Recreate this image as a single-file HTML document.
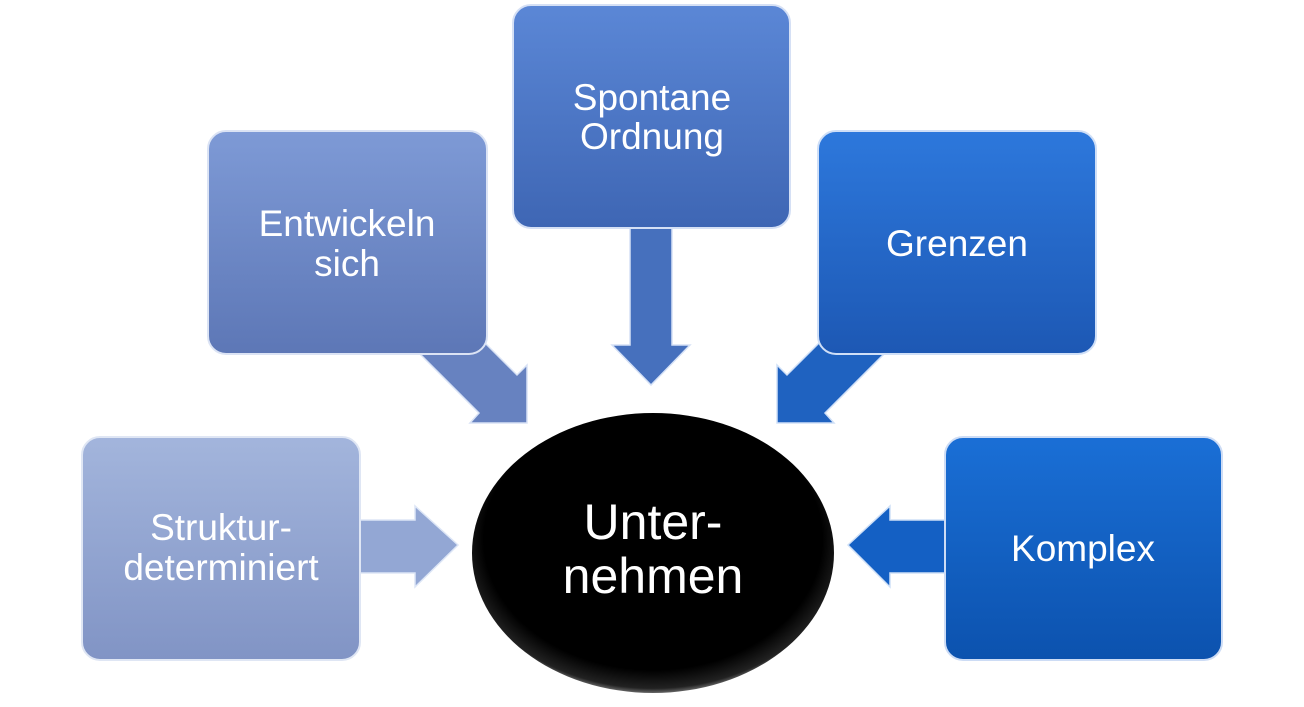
<!DOCTYPE html>
<html><head><meta charset="utf-8"><style>
body{margin:0;width:1304px;height:707px;background:#fff;overflow:hidden;font-family:"Liberation Sans",sans-serif}
svg{position:absolute;left:0;top:0}
</style></head><body>
<svg width="1304" height="707" viewBox="0 0 1304 707">
<defs>
<linearGradient id="g1" x1="0" y1="0" x2="0" y2="1"><stop offset="0" stop-color="#a3b5dc"/><stop offset="1" stop-color="#8194c5"/></linearGradient>
<linearGradient id="g2" x1="0" y1="0" x2="0" y2="1"><stop offset="0" stop-color="#7e9ad6"/><stop offset="1" stop-color="#5d77b6"/></linearGradient>
<linearGradient id="g3" x1="0" y1="0" x2="0" y2="1"><stop offset="0" stop-color="#5b87d6"/><stop offset="1" stop-color="#3e66b4"/></linearGradient>
<linearGradient id="g4" x1="0" y1="0" x2="0" y2="1"><stop offset="0" stop-color="#2d78dc"/><stop offset="1" stop-color="#1d58b4"/></linearGradient>
<linearGradient id="g5" x1="0" y1="0" x2="0" y2="1"><stop offset="0" stop-color="#1a6fd6"/><stop offset="1" stop-color="#0c52ae"/></linearGradient>
<radialGradient id="ge" cx="0.5" cy="0.45" r="0.55"><stop offset="0.85" stop-color="#000"/><stop offset="0.97" stop-color="#222"/><stop offset="1" stop-color="#666"/></radialGradient>
</defs>
<polygon points="360,520 415,520 415,506 458,545 415,587 415,573 360,573" fill="#93a7d4" stroke="#dde6f6" stroke-width="1.5"/>
<polygon points="945,520 890,520 890,506 848,545 890,587 890,573 945,573" fill="#1460c4" stroke="#cfe0f7" stroke-width="1.5"/>
<polygon points="630,228 672,228 672,345 690,345 651,385 612,345 630,345" fill="#4670bd" stroke="#d5e1f6" stroke-width="1.5"/>
<polygon points="421,355 459,317 517,375 527,365 527,423 470,423 479,413" fill="#6782c0" stroke="#d8e2f5" stroke-width="1.5"/>
<polygon points="883,355 845,317 787,375 777,365 777,423 834,423 825,413" fill="#1f62c0" stroke="#d0e0f7" stroke-width="1.5"/>
<rect x="82" y="437" width="278" height="223" rx="18" fill="url(#g1)" stroke="#dfe6f4" stroke-width="2"/>
<rect x="208" y="131" width="279" height="223" rx="18" fill="url(#g2)" stroke="#dbe3f4" stroke-width="2"/>
<rect x="513" y="5" width="277" height="223" rx="18" fill="url(#g3)" stroke="#d5e0f5" stroke-width="2"/>
<rect x="818" y="131" width="278" height="223" rx="18" fill="url(#g4)" stroke="#cfdff7" stroke-width="2"/>
<rect x="945" y="437" width="277" height="223" rx="18" fill="url(#g5)" stroke="#cddcf5" stroke-width="2"/>
<ellipse cx="653" cy="553" rx="181" ry="140" fill="url(#ge)"/>
<g fill="#fff" font-family="Liberation Sans, sans-serif" font-size="37" text-anchor="middle">
<text x="221" y="540">Struktur-</text><text x="221" y="580">determiniert</text>
<text x="347" y="236">Entwickeln</text><text x="347" y="276">sich</text>
<text x="652" y="110">Spontane</text><text x="652" y="149">Ordnung</text>
<text x="957" y="256">Grenzen</text>
<text x="1083" y="561">Komplex</text>
<text x="653" y="539" font-size="50">Unter-</text><text x="653" y="593" font-size="50">nehmen</text>
</g>
</svg>
</body></html>
